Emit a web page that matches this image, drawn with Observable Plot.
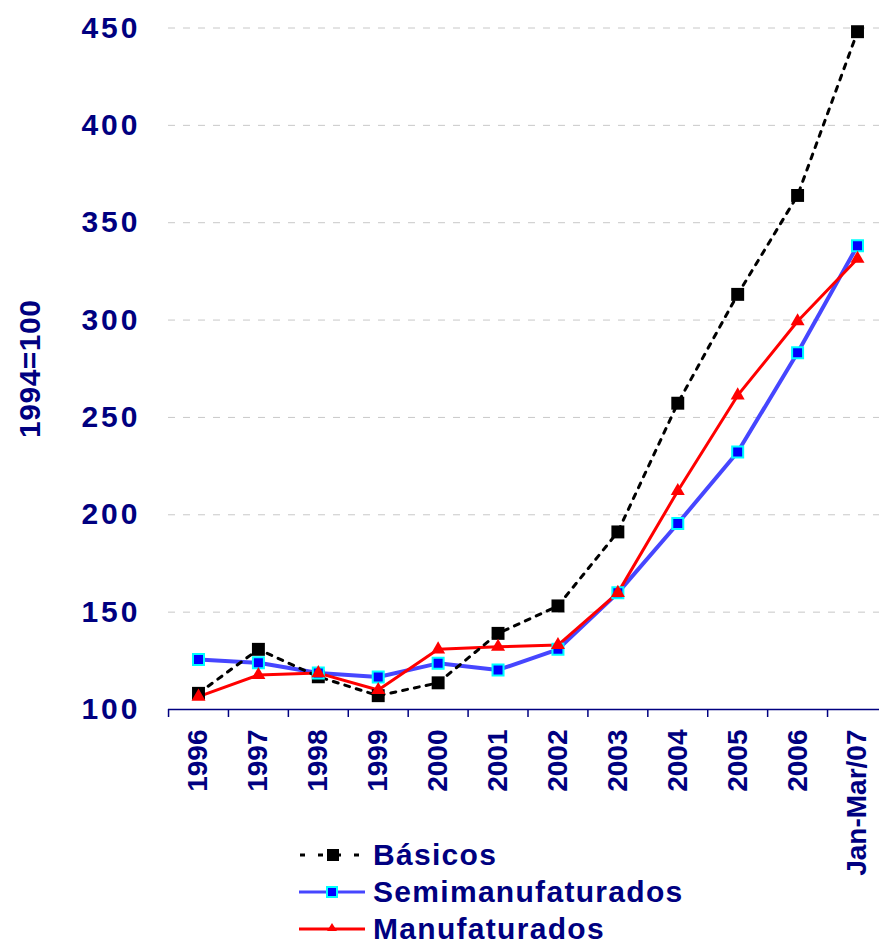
<!DOCTYPE html>
<html><head><meta charset="utf-8">
<script src="https://cdn.jsdelivr.net/npm/d3@7"></script>
<script src="https://cdn.jsdelivr.net/npm/@observablehq/plot@0.6"></script>
<style>
html,body{margin:0;padding:0;background:#fff;}
body{width:879px;height:946px;overflow:hidden;font-family:"Liberation Sans",Arial,sans-serif;}
#chart svg{overflow:visible;display:block;}
#chart g[aria-label="y-axis tick label"]{letter-spacing:3px;}
#chart g[aria-label="y-axis label"]{letter-spacing:0.5px;}
#legend{padding-left:299px;margin-top:-4px;}
#legend .row{display:flex;align-items:center;height:37px;}
#legend .row svg{display:block;width:66px;height:20px;margin-right:8px;}
#legend .row span{font-size:30px;font-weight:bold;color:#000080;letter-spacing:1.3px;line-height:24px;}
</style>
</head><body>
<div id="chart"></div>
<div id="legend"></div>
<script>
const categories = ["1996","1997","1998","1999","2000","2001","2002","2003","2004","2005","2006","Jan-Mar/07"];
const basicos = [108.3, 130.9, 116.8, 107.1, 113.7, 139.1, 153.2, 191.2, 257.3, 313.2, 364.0, 448.1];
const semimanufaturados = [125.7, 124.0, 118.7, 116.7, 123.7, 120.3, 130.9, 159.9, 195.5, 232.2, 283.2, 338.2];
const manufaturados = [106.6, 117.7, 118.7, 110.0, 130.9, 132.2, 133.1, 159.9, 212.2, 261.3, 299.4, 331.5];
const yTicks = [100, 150, 200, 250, 300, 350, 400, 450];
const seriesNames = ["Básicos", "Semimanufaturados", "Manufaturados"];
const yLabel = "1994=100";

const toRows = (name, values) => values.map((v, i) => ({serie: name, periodo: categories[i], valor: v}));
const dB = toRows(seriesNames[0], basicos);
const dS = toRows(seriesNames[1], semimanufaturados);
const dM = toRows(seriesNames[2], manufaturados);

const navy = "#000080";
const xRange = [198, 857];
const half = (xRange[1] - xRange[0]) / (categories.length - 1) / 2;

const chart = Plot.plot({
  width: 879, height: 840,
  marginTop: 27.5, marginBottom: 131, marginLeft: 168, marginRight: 0,
  style: {fontFamily: "'Liberation Sans', Arial, sans-serif", background: "white", overflow: "visible"},
  x: {type: "point", domain: categories, range: xRange, padding: 0, round: false},
  y: {domain: [100, 450]},
  marks: [
    Plot.gridY(yTicks, {stroke: "#c8c8c8", strokeOpacity: 1, strokeDasharray: "7,8"}),
    Plot.axisY(yTicks, {tickSize: 0, tickPadding: 28, fontSize: 30, fontWeight: "bold", fill: navy,
      label: yLabel, labelAnchor: "center", labelOffset: 150, labelArrow: "none"}),
    Plot.ruleY([100], {stroke: navy, strokeWidth: 1.5}),
    Plot.axisX({tickSize: 8, stroke: navy, strokeWidth: 1.5, dx: -half, tickFormat: () => "", label: null}),
    Plot.axisX({tickSize: 0, tickRotate: -90, tickPadding: 20, fontSize: 28, fontWeight: "bold", fill: navy, label: null}),
    Plot.line(dS, {x: "periodo", y: "valor", stroke: "#4646ff", strokeWidth: 4}),
    Plot.line(dM, {x: "periodo", y: "valor", stroke: "#ff0000", strokeWidth: 3}),
    Plot.line(dB, {x: "periodo", y: "valor", stroke: "black", strokeWidth: 3, strokeDasharray: "5,7"}),
    Plot.dot(dB, {x: "periodo", y: "valor", symbol: "square", r: 7.3, fill: "black"}),
    Plot.dot(dS, {x: "periodo", y: "valor", symbol: "square", r: 6.2, fill: "#0000ff", stroke: "#00ffff", strokeWidth: 2}),
    Plot.dot(dM, {x: "periodo", y: "valor", symbol: "triangle", r: 5.2, fill: "#ff0000"})
  ]
});
document.getElementById("chart").appendChild(chart);

const swatches = [
  '<svg viewBox="0 0 66 20"><line x1="1" y1="10" x2="66" y2="10" stroke="black" stroke-width="3" stroke-dasharray="5,13"/><rect x="28" y="4" width="12" height="12" fill="black"/></svg>',
  '<svg viewBox="0 0 66 20"><line x1="0" y1="10" x2="66" y2="10" stroke="#4646ff" stroke-width="3"/><rect x="28" y="5" width="10" height="10" fill="#0000ff" stroke="#00ffff" stroke-width="2"/></svg>',
  '<svg viewBox="0 0 66 20"><line x1="0" y1="10" x2="66" y2="10" stroke="#ff0000" stroke-width="3"/><path d="M33,4 L38,12 L28,12 Z" fill="#ff0000"/></svg>'
];
const legend = document.getElementById("legend");
seriesNames.forEach((name, i) => {
  const row = document.createElement("div");
  row.className = "row";
  row.innerHTML = swatches[i] + "<span></span>";
  row.querySelector("span").textContent = name;
  legend.appendChild(row);
});
</script>
</body></html>
